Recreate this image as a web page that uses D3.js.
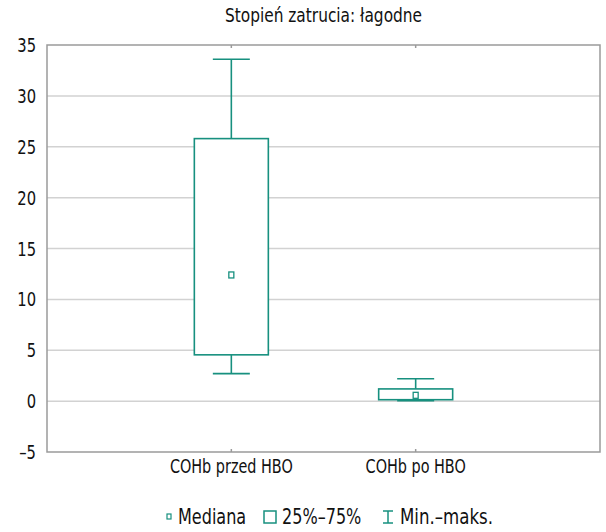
<!DOCTYPE html>
<html><head><meta charset="utf-8">
<script src="https://cdn.jsdelivr.net/npm/d3@7"></script>
<style>
body{margin:0;background:#fff;}
text{font-family:"Liberation Sans Narrow","DejaVu Sans Condensed",sans-serif;fill:#111;}
</style></head>
<body><svg id="c" width="606" height="532"></svg>
<script>
const title = "Stopień zatrucia: łagodne";
const categories = ["COHb przed HBO", "COHb po HBO"];
const minVals = [2.7, 0.05];
const q1Vals = [4.55, 0.14];
const medianVals = [12.4, 0.57];
const q3Vals = [25.8, 1.2];
const maxVals = [33.6, 2.2];
const yTicks = [-5, 0, 5, 10, 15, 20, 25, 30, 35];
const legendLabels = ["Mediana", "25%–75%", "Min.–maks."];

const color = "#17907f";
const svg = d3.select("#c");
const L = 47, R = 600, T = 45, B = 452;
const x = d3.scalePoint().domain(categories).range([L, R]).padding(1);
const y = d3.scaleLinear().domain([-5, 35]).range([B, T]);
const SX = 0.82;

function label(sel, px, py, size, anchor, txt, sx) {
  return sel.append("text").attr("transform", `translate(${px},${py}) scale(${sx || SX},1)`)
    .attr("text-anchor", anchor).style("font-size", size + "px").text(txt);
}

// gridlines
svg.append("g").selectAll("line").data(yTicks.slice(1, -1)).join("line")
  .attr("x1", L).attr("x2", R).attr("y1", d => y(d)).attr("y2", d => y(d))
  .attr("stroke", "#d2d2d2").attr("stroke-width", 1.5);

// frame
svg.append("rect").attr("x", L).attr("y", T).attr("width", R - L).attr("height", B - T)
  .attr("fill", "none").attr("stroke", "#9a9a9a").attr("stroke-width", 1.5);

// y tick labels
const yl = svg.append("g");
yTicks.forEach(d => {
  label(yl, L - 11, y(d) + 7, 20, "end", d < 0 ? "–" + Math.abs(d) : String(d));
});

// category ticks at top and bottom
svg.append("g").selectAll("line").data(categories).join("line")
  .attr("x1", d => x(d)).attr("x2", d => x(d)).attr("y1", T).attr("y2", T + 3)
  .attr("stroke", "#9a9a9a").attr("stroke-width", 1.5);
svg.append("g").selectAll("line").data(categories).join("line")
  .attr("x1", d => x(d)).attr("x2", d => x(d)).attr("y1", B).attr("y2", B - 3)
  .attr("stroke", "#9a9a9a").attr("stroke-width", 1.5);

// category labels
const cl = svg.append("g");
categories.forEach(c => label(cl, x(c), 473, 20, "middle", c, 0.8));

// title
label(svg, (L + R) / 2, 22, 19, "middle", title, 0.9);

const boxW = 74, capW = 37;
const g = svg.append("g").attr("stroke", color).attr("stroke-width", 1.6).attr("fill", "none");
categories.forEach((c, i) => {
  const cx = x(c);
  g.append("line").attr("x1", cx).attr("x2", cx).attr("y1", y(maxVals[i])).attr("y2", y(q3Vals[i]));
  g.append("line").attr("x1", cx - capW / 2).attr("x2", cx + capW / 2).attr("y1", y(maxVals[i])).attr("y2", y(maxVals[i]));
  g.append("line").attr("x1", cx).attr("x2", cx).attr("y1", y(q1Vals[i])).attr("y2", y(minVals[i]));
  g.append("line").attr("x1", cx - capW / 2).attr("x2", cx + capW / 2).attr("y1", y(minVals[i])).attr("y2", y(minVals[i]));
  g.append("rect").attr("x", cx - boxW / 2).attr("y", y(q3Vals[i]))
    .attr("width", boxW).attr("height", y(q1Vals[i]) - y(q3Vals[i])).attr("fill", "#fff");
  g.append("rect").attr("x", cx - 2.5).attr("y", y(medianVals[i]) - 3).attr("width", 5).attr("height", 6)
    .attr("fill", "#fff").attr("stroke-width", 1.3);
});

// legend
const ly = 517;
const lg = svg.append("g");
lg.append("rect").attr("x", 167).attr("y", ly - 3).attr("width", 4).attr("height", 5)
  .attr("fill", "#fff").attr("stroke", color).attr("stroke-width", 1.2);
label(lg, 178, ly + 7, 21, "start", legendLabels[0], 0.85);
lg.append("rect").attr("x", 264).attr("y", ly - 6).attr("width", 12).attr("height", 12)
  .attr("fill", "#fff").attr("stroke", color).attr("stroke-width", 1.5);
label(lg, 282, ly + 7, 21, "start", legendLabels[1], 0.85);
const wx = 388;
lg.append("line").attr("x1", wx - 5).attr("x2", wx + 5).attr("y1", ly - 6).attr("y2", ly - 6).attr("stroke", color).attr("stroke-width", 1.5);
lg.append("line").attr("x1", wx - 5).attr("x2", wx + 5).attr("y1", ly + 6).attr("y2", ly + 6).attr("stroke", color).attr("stroke-width", 1.5);
lg.append("line").attr("x1", wx).attr("x2", wx).attr("y1", ly - 6).attr("y2", ly + 6).attr("stroke", color).attr("stroke-width", 1.5);
label(lg, 400, ly + 7, 21, "start", legendLabels[2], 0.88);
</script></body></html>
